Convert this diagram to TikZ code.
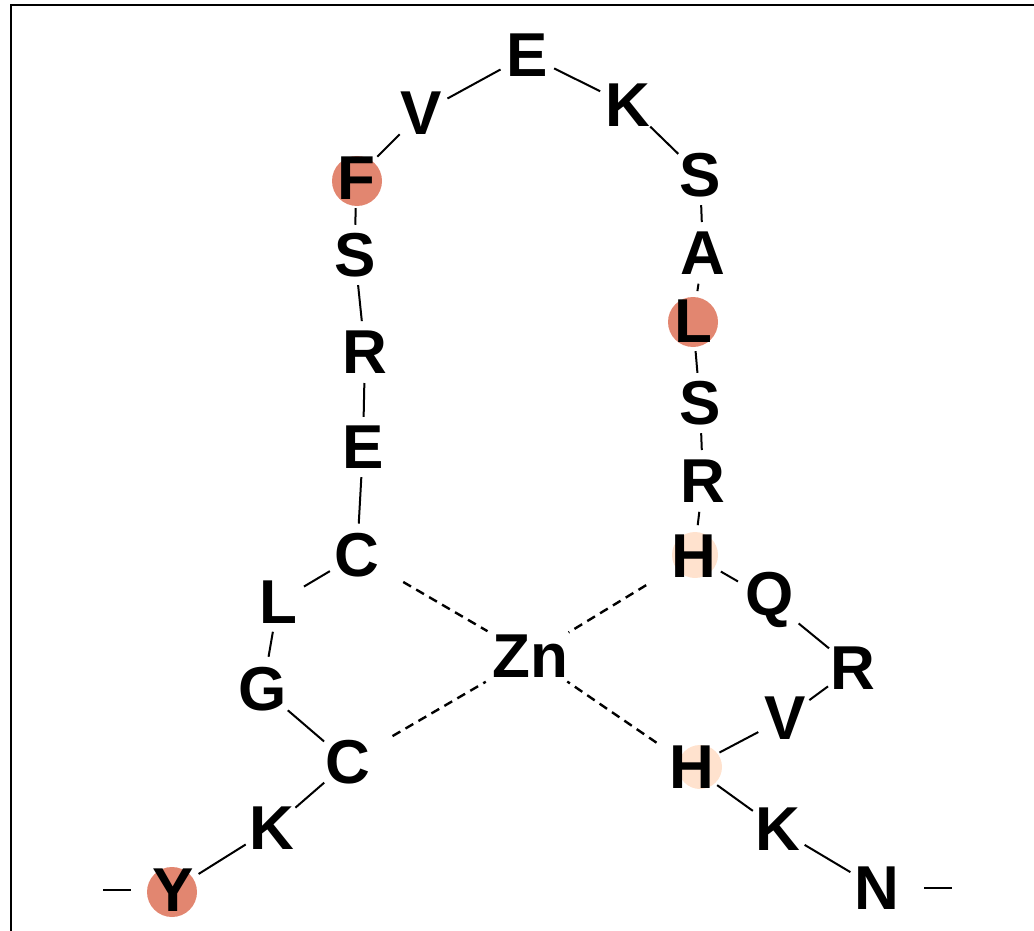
\documentclass[tikz,border=0pt]{standalone}
\usepackage{fontspec}
\setmainfont{Liberation Sans}
\usetikzlibrary{positioning}
\definecolor{hot}{RGB}{226,134,112}
\definecolor{warm}{RGB}{255,226,206}

\begin{document}
\begin{tikzpicture}[x=1pt,y=-1pt,font=\fontsize{62}{62}\selectfont\bfseries,
    aa/.style={circle,inner sep=0pt,minimum size=60pt},
    bond/.style={line width=2pt},
    zinc/.style={line width=2.4pt,dash pattern=on 9pt off 6pt}]
    \useasboundingbox (0,0) rectangle (1034,931);
    \draw[line width=2pt] (11,931) -- (11,5) -- (1034,5);
    \fill[hot] (357,181) circle (25);
    \fill[hot] (693,322) circle (25);
    \fill[hot] (172,892) circle (25);
    \fill[warm] (695,555) circle (23);
    \fill[warm] (700,767) circle (22);
    \node[aa](e1) at (527,55){E};
    \node[aa](v1) at (421,113){V};
    \node[aa](k1) at (628,105){K};
    \node[aa](f) at (356,178){F};
    \node[aa](s1) at (700,175){S};
    \node[aa](s2) at (355,255){S};
    \node[aa](a) at (703,253){A};
    \node[aa](r1) at (365,352){R};
    \node[aa](l1) at (693,321){L};
    \node[aa](s3) at (700,403){S};
    \node[aa](e2) at (363,447){E};
    \node[aa](r2) at (703,481){R};
    \node[aa](c1) at (357,555){C};
    \node[aa](h1) at (694,556){H};
    \node[aa](l2) at (278,602){L};
    \node[aa](q) at (770,600){Q};
    \node[aa,minimum size=90pt](zn) at (530,656){Zn};
    \node[aa](g) at (263,689){G};
    \node[aa](r3) at (853,668){R};
    \node[aa](v2) at (785,718){V};
    \node[aa](c2) at (348,762){C};
    \node[aa](h2) at (692,767){H};
    \node[aa](k2) at (272,828){K};
    \node[aa](k3) at (778,829){K};
    \node[aa](y) at (173,890){Y};
    \node[aa](n) at (877,888){N};
    \coordinate (yend) at (103,890);
    \coordinate (nend) at (952,888);
    \path[bond] (y) edge[shorten <=12pt] (yend) (y) edge (k2) (k2) edge (c2) (c2) edge (g)
        (g) edge (l2) (l2) edge (c1) (c1) edge (e2) (e2) edge (r1) (r1) edge (s2)
        (s2) edge (f) (f) edge (v1) (v1) edge (e1) (e1) edge (k1) (k1) edge (s1)
        (s1) edge (a) (a) edge (l1) (l1) edge (s3) (s3) edge (r2) (r2) edge (h1)
        (h1) edge (q) (q) edge (r3) (r3) edge (v2) (v2) edge (h2) (h2) edge (k3)
        (k3) edge (n) (n) edge[shorten <=16pt] (nend);
    \path[zinc] (c1) edge[shorten <=22pt,shorten >=4pt] (zn) (h1) edge[shorten <=25pt] (zn)
        (c2) edge[shorten <=20pt,shorten >=6pt] (zn) (h2) edge[shorten <=12pt] (zn);
\end{tikzpicture}
\end{document}
